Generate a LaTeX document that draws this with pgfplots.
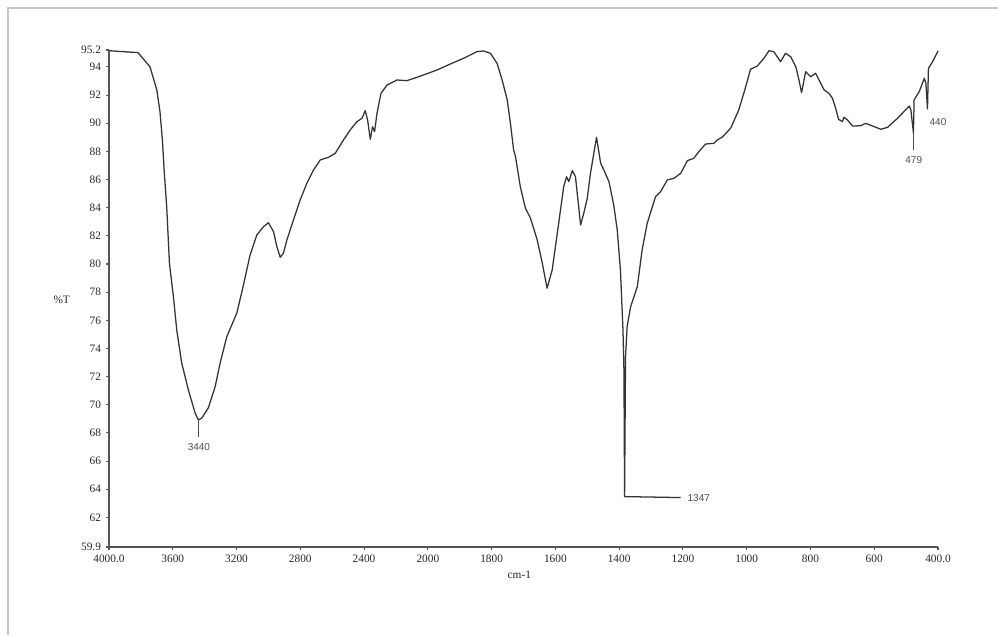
\documentclass[border=0pt]{standalone}
\usepackage{pgfplots}
\pgfplotsset{compat=1.18}
\usepackage{fontspec}
\setmainfont{Liberation Serif}
\newfontfamily\annfont{Liberation Sans}
\definecolor{axgray}{HTML}{555555}
\definecolor{curve}{HTML}{333333}
\definecolor{anngray}{HTML}{4A4A4A}
\begin{document}
\begin{tikzpicture}
\useasboundingbox (-81.75pt,-66pt) rectangle (666.75pt,410.25pt);
\draw[black!22, line width=0.8pt] (-75.75pt,-66pt) -- (-75.75pt,404.25pt) -- (666.75pt,404.25pt);
\begin{axis}[
  scale only axis, width=621.75pt, height=372.75pt,
  xmin=0, xmax=13, ymin=59.9, ymax=95.2,
  clip=false,
  axis lines=left,
  axis line style={axgray, line width=1.1pt, -},
  x filter/.expression={x>=2000 ? (4000-x)/400 : 5+(2000-x)/200},
  xtick={0,1,2,3,4,5,6,7,8,9,10,11,12,13},
  xticklabels={4000.0,3600,3200,2800,2400,2000,1800,1600,1400,1200,1000,800,600,400.0},
  ytick={59.9,62,64,66,68,70,72,74,76,78,80,82,84,86,88,90,92,94,95.2},
  yticklabels={59.9,62,64,66,68,70,72,74,76,78,80,82,84,86,88,90,92,94,95.2},
  tick align=outside, major tick length=2.5pt,
  tick style={axgray, line width=0.8pt},
  ticklabel style={font=\fontsize{8.5}{10}\selectfont, text=black!85},
  /pgf/number format/assume math mode=true,
  xlabel={cm-1}, ylabel={\%T},
  xlabel style={at={(axis description cs:0.495,-0.056)}, anchor=center, font=\fontsize{8.5}{10}\selectfont, text=black!85},
  ylabel style={at={(axis description cs:-0.057,0.497)}, anchor=center, rotate=-90, font=\fontsize{8.5}{10}\selectfont, text=black!85},
]
\addplot[curve, line width=0.95pt, line join=round] coordinates {
(4000,95.15) (3818,95.01) (3743,94.01) (3700,92.36) (3680,90.8) (3665,88.81)
(3653,86.46) (3638,84.07) (3628,81.71) (3621,80.07) (3596,77.68) (3575,75.31)
(3544,72.97) (3502,71.05) (3460,69.42) (3439,68.92) (3418,69.06) (3377,69.78)
(3334,71.29) (3303,72.97) (3261,74.84) (3198,76.52) (3159,78.39) (3115,80.64)
(3073,82.06) (3031,82.65) (3000,82.93) (2968,82.3) (2947,81.23) (2926,80.48)
(2906,80.76) (2884,81.71) (2843,83.13) (2801,84.55) (2759,85.73) (2717,86.68)
(2675,87.39) (2623,87.58) (2581,87.86) (2529,88.81) (2487,89.52) (2445,90.11)
(2413,90.35) (2393,90.89) (2378,90.23) (2361,88.86) (2347,89.75) (2334,89.4)
(2319,90.7) (2294,92.12) (2256,92.71) (2194,93.07) (2131,93.02) (2068,93.26)
(1971,93.78) (1929,94.21) (1888,94.61) (1846,95.08) (1825,95.13) (1804,94.97)
(1783,94.26) (1767,93.07) (1751,91.65) (1741,89.99) (1731,88.1) (1725,87.62)
(1710,85.49) (1694,83.96) (1678,83.25) (1657,81.71) (1641,80.05) (1626,78.28)
(1610,79.58) (1594,82.18) (1574,85.49) (1565,86.2) (1558,85.85) (1547,86.63)
(1537,86.2) (1527,84.07) (1521,82.77) (1511,83.6) (1500,84.67) (1490,86.44)
(1471,89.0) (1458,87.15) (1448,86.68) (1432,85.85) (1417,84.19) (1406,82.42)
(1396,79.58) (1388,75.31) (1385,72.47) (1383,63.48) (1380,73.42) (1375,75.55)
(1364,76.97) (1343,78.39) (1328,81.0) (1312,82.89) (1286,84.78) (1270,85.14)
(1249,85.97) (1228,86.09) (1207,86.44) (1186,87.34) (1166,87.51) (1150,87.98)
(1129,88.52) (1103,88.57) (1092,88.81) (1076,89.02) (1050,89.66) (1025,90.94)
(1006,92.36) (988,93.83) (967,94.06) (946,94.61) (930,95.15) (915,95.08)
(894,94.37) (878,94.97) (862,94.72) (846,94.01) (836,93.07) (828,92.17)
(815,93.66) (799,93.3) (784,93.55) (768,92.84) (757,92.36) (742,92.12)
(731,91.77) (721,91.06) (712,90.28) (700,90.11) (695,90.42) (684,90.23)
(668,89.8) (642,89.82) (627,89.99) (605,89.8) (579,89.57) (558,89.71)
(527,90.35) (490,91.22) (485,90.94) (477,89.31) (475,91.65) (459,92.24)
(443,93.19) (438,92.84) (433,91.01) (430,93.9) (417,94.37) (400,95.13)
};
\addplot[anngray, line width=1pt] coordinates {(3439,68.92) (3439,67.72)};
\addplot[curve, line width=0.95pt] coordinates {(1383,63.48) (1207,63.41)};
\addplot[anngray, line width=1pt] coordinates {(477,89.31) (477,88.1)};
\node[font=\annfont\fontsize{7.5}{9}\selectfont, text=anngray, anchor=north] at (axis cs:1.41,67.6) {3440};
\node[font=\annfont\fontsize{7.5}{9}\selectfont, text=anngray, anchor=west] at (axis cs:9.0,63.4) {1347};
\node[font=\annfont\fontsize{7.5}{9}\selectfont, text=anngray, anchor=north] at (axis cs:12.62,87.95) {479};
\node[font=\annfont\fontsize{7.5}{9}\selectfont, text=anngray] at (axis cs:13.0,90.1) {440};
\end{axis}
\end{tikzpicture}
\end{document}
